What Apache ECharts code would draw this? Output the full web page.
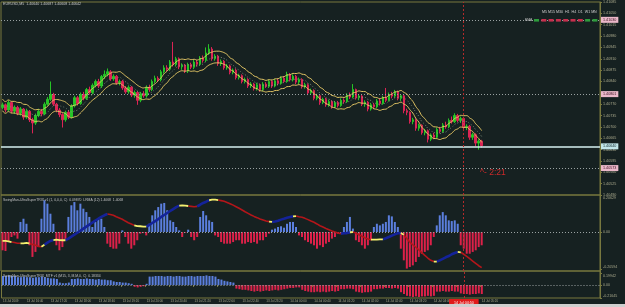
<!DOCTYPE html>
<html><head><meta charset="utf-8">
<script src="https://cdn.jsdelivr.net/npm/echarts@6/dist/echarts.min.js"></script>
<style>html,body{margin:0;padding:0;background:#162121;}#c{width:625px;height:307px;}</style>
</head><body><div id="c"></div>
<script>
// Prices are stored as points above BASE (e.g. 640 -> 1.40640)
const BASE = 1.4;
const opens = [
760,768,752,775,748,760,742,755,730,748,
722,712,735,748,740,770,785,800,770,752,
738,722,745,730,765,790,772,800,788,815,
806,828,840,826,855,862,870,848,856,836,
840,820,808,822,798,806,782,802,796,822,
815,840,850,845,870,882,878,900,892,910,
885,890,872,892,884,900,893,912,905,928,
940,910,918,895,902,882,888,868,875,852,
858,840,846,826,832,818,830,815,832,825,
840,826,842,834,850,840,862,845,856,838,
846,824,830,805,812,788,796,775,785,768,
778,762,775,766,782,778,798,792,815,790,
795,770,776,755,768,762,780,772,790,782,
800,795,808,788,796,750,745,716,722,696,
705,682,688,662,675,668,692,686,706,700,
720,716,735,720,726,698,702,668,676,650,
656];
const closes = [
768,752,775,748,760,742,755,730,748,722,
712,735,748,740,770,785,800,770,752,738,
722,745,730,765,790,772,800,788,815,806,
828,840,826,855,862,870,848,856,836,840,
820,808,822,798,806,782,802,796,822,815,
840,850,845,870,882,878,900,892,910,885,
890,872,892,884,900,893,912,905,928,940,
910,918,895,902,882,888,868,875,852,858,
840,846,826,832,818,830,815,832,825,840,
826,842,834,850,840,862,845,856,838,846,
824,830,805,812,788,796,775,785,768,778,
762,775,766,782,778,798,792,815,790,795,
770,776,755,768,762,780,772,790,782,800,
795,808,788,796,750,745,716,722,696,705,
682,688,662,675,668,692,686,706,700,720,
716,735,720,726,698,702,668,676,650,656,
642];
const highs = [
775,772,782,779,766,765,761,758,756,752,
728,741,756,755,776,792,840,805,774,758,
742,750,752,770,796,795,806,808,820,824,
834,846,848,860,874,880,875,862,860,846,
845,826,828,826,812,810,808,810,828,830,
846,858,856,876,890,890,906,962,916,914,
896,894,898,898,906,906,918,920,945,955,
946,924,922,908,906,894,892,880,880,864,
862,852,850,838,836,836,834,838,838,846,
844,848,848,856,856,870,866,862,860,852,
850,836,834,818,816,802,800,790,790,784,
782,780,780,788,788,804,806,832,818,800,
798,782,780,774,774,786,786,796,820,806,
808,814,812,800,800,756,748,728,726,710,
708,694,692,680,682,698,700,712,716,726,
732,742,740,732,730,708,706,682,680,662,
660];
const lows = [
754,745,748,742,740,736,735,722,725,715,
680,706,730,733,736,765,780,764,745,730,
698,716,724,726,760,766,768,782,783,800,
800,822,820,820,848,856,842,842,830,828,
814,802,802,792,790,768,776,790,790,808,
810,834,838,840,864,870,872,886,886,878,
876,866,866,878,878,886,888,898,900,922,
904,904,888,888,876,876,862,862,846,846,
834,834,820,820,812,812,808,810,820,820,
820,822,828,830,836,836,840,840,832,832,
818,818,798,800,782,782,768,770,762,762,
756,758,760,762,772,774,786,788,784,782,
764,762,748,750,756,758,766,768,776,778,
788,790,782,780,742,736,710,708,688,688,
676,674,652,656,662,664,680,682,694,696,
710,712,714,712,690,690,660,660,640,630,
636];
const hist1 = [
-0.102,-0.106,-0.056,-0.028,-0.019,-0.037,0.056,0.074,0.046,-0.074,
-0.139,-0.111,-0.084,0.074,0.177,0.158,0.102,0.046,-0.074,-0.102,
-0.084,-0.046,0.084,0.149,0.167,0.121,0.158,0.130,0.111,0.084,
0.028,0.056,0.074,0.074,0.028,-0.065,-0.084,-0.093,-0.093,-0.065,
0.009,-0.028,-0.065,-0.093,-0.074,-0.046,-0.009,-0.006,-0.019,0.046,
0.093,0.121,0.139,0.158,0.162,0.121,0.065,0.056,0.028,0.009,
-0.028,-0.004,0.013,-0.028,-0.046,-0.028,0.084,0.117,0.093,0.065,
0.056,-0.019,-0.028,-0.056,-0.065,-0.065,-0.065,-0.056,-0.046,-0.046,
-0.065,-0.065,-0.056,-0.061,-0.056,-0.065,-0.046,-0.046,-0.028,-0.009,
0.013,0.019,0.028,0.032,0.024,0.046,0.056,0.056,0.028,-0.019,
-0.028,-0.046,-0.056,-0.065,-0.074,-0.093,-0.074,-0.084,-0.065,-0.056,
-0.037,-0.028,-0.009,-0.006,0.028,0.056,0.084,0.019,-0.046,-0.056,
-0.074,-0.093,-0.074,-0.046,0.028,0.046,0.037,0.046,0.056,0.093,
0.087,0.056,0.028,-0.093,-0.158,-0.204,-0.195,-0.186,-0.167,-0.139,
-0.121,-0.111,-0.102,-0.074,-0.028,0.037,0.093,0.111,0.093,0.065,
0.061,0.065,0.046,-0.074,-0.093,-0.121,-0.121,-0.111,-0.102,-0.084,
-0.074];
const signal1 = [
-0.050,-0.050,-0.052,-0.056,-0.059,-0.063,-0.063,-0.063,-0.061,-0.063,
-0.069,-0.074,-0.080,-0.082,-0.071,-0.059,-0.050,-0.045,-0.043,-0.045,
-0.046,-0.046,-0.037,-0.026,-0.015,-0.004,0.007,0.019,0.030,0.041,
0.052,0.063,0.074,0.084,0.093,0.100,0.098,0.093,0.085,0.078,
0.071,0.061,0.052,0.045,0.037,0.033,0.032,0.030,0.030,0.039,
0.050,0.061,0.072,0.084,0.095,0.106,0.117,0.128,0.139,0.147,
0.149,0.147,0.145,0.143,0.141,0.143,0.152,0.162,0.169,0.177,
0.180,0.180,0.178,0.175,0.171,0.165,0.158,0.150,0.141,0.132,
0.123,0.113,0.104,0.095,0.087,0.080,0.072,0.067,0.061,0.058,
0.056,0.059,0.063,0.069,0.074,0.080,0.084,0.087,0.089,0.085,
0.082,0.076,0.069,0.061,0.054,0.045,0.035,0.028,0.020,0.013,
0.006,0,-0.006,-0.009,-0.007,-0.006,-0.002,0,-0.006,-0.015,
-0.024,-0.032,-0.039,-0.043,-0.043,-0.043,-0.041,-0.041,-0.035,-0.028,
-0.020,-0.013,-0.007,-0.006,-0.015,-0.037,-0.056,-0.071,-0.085,-0.100,
-0.115,-0.130,-0.145,-0.158,-0.165,-0.165,-0.158,-0.150,-0.141,-0.134,
-0.124,-0.117,-0.111,-0.113,-0.124,-0.136,-0.149,-0.162,-0.175,-0.188,
-0.199];
// colour state of each signal segment: b = rising (blue), r = falling (red), y = turning (yellow)
const signalRuns = [['y',3],['r',3],['y',3],['r',4],['y',1],['b',3],['y',4],['b',14],['r',9],['y',4],['b',11],['y',3],['r',3],['b',4],['y',3],['r',17],['y',1],['b',7],['y',1],['r',15],['b',3],['y',1],['r',6],['y',4],['b',6],['y',1],['r',10],['y',1],['b',7],['y',1],['r',7]];
const hist2 = [
0.15,0.15,0.16,0.15,0.15,
0.13,0.13,0.14,0.13,0.13,0.12,0.13,0.13,0.14,0.13,
0.12,0.11,0.11,0.10,
0.04,0.03,0.03,0.04,
0.10,0.10,0.11,0.10,0.10,0.11,0.10,0.10,0.09,0.10,0.09,0.09,0.08,0.08,
0.06,0.05,0.05,0.04,0.04,0.03,0.02,
-0.03,-0.04,-0.03,-0.02,
0.02,
0.14,0.14,0.15,0.15,0.15,0.14,0.15,0.15,0.14,0.15,0.15,0.14,0.14,0.15,0.15,0.14,0.15,
0.15,0.15,0.16,0.15,0.15,0.14,
0.10,0.09,0.07,0.06,0.05,0.04,
-0.06,-0.07,-0.08,-0.08,-0.09,
-0.10,-0.11,-0.10,-0.11,-0.10,-0.09,-0.10,-0.09,-0.08,-0.09,-0.08,-0.07,-0.06,-0.05,-0.05,
-0.04,-0.04,
-0.08,-0.10,-0.11,-0.12,-0.12,-0.11,-0.12,-0.11,-0.12,-0.11,-0.10,-0.11,-0.10,
-0.07,-0.07,-0.06,-0.06,-0.07,
-0.11,-0.12,-0.13,-0.12,-0.12,-0.11,
-0.07,-0.07,-0.06,-0.06,-0.05,-0.05,-0.06,-0.05,-0.06,
-0.12,-0.15,-0.18,
-0.19,-0.20,-0.19,-0.20,-0.19,-0.19,-0.18,-0.19,-0.18,
-0.11,-0.11,-0.10,-0.11,-0.11,-0.10,-0.11,-0.11,
-0.14,-0.15,-0.15,-0.16,-0.15,-0.15,-0.14,-0.15];
const timeLabels = ['13 Jul 2009','13 Jul 16:40','13 Jul 17:20','13 Jul 18:00','13 Jul 18:40','13 Jul 19:20','13 Jul 20:00','13 Jul 20:40','13 Jul 21:20','13 Jul 22:00','13 Jul 22:40','13 Jul 23:20','14 Jul 00:00','14 Jul 00:40','14 Jul 01:20','14 Jul 02:00','14 Jul 02:40','14 Jul 03:20','14 Jul 04:00','14 Jul 04:40','14 Jul 05:20'];
const LABEL_EVERY = 8;
const priceLevels = [1030, 801, 573];
const bidPrice = 640;
const ind1Labels = [0.20629, 0, -0.20594];
const ind2Labels = [0.19942, 0, -0.21645];
const cursorBar = 154;
const cursorLabel = '14 Jul 04:50';
const emaStates = ['g','r','r','r','r','r','r','g','g'];
const titleText = 'EURUSD,M5  1.40640 1.40687 1.40608 1.40642';
const tfText = 'M5 M15 M30  H1  H4  D1  W1 MN';
const ind1Title = 'SwingMan-UltraSuperTRIX v1 (1, 0,0,0, C)  0.09870  LRMA (12) 1.4068  1.4068';
const ind2Title = 'SwingMan-UltraSuperTRIX_MTF v1 (M15, 3, M,M,0, C)  0.18334';
const timerText = '^- 2:21';
const SLOTS = 200;
const ENV_PERIOD = 7, ENV_DEV = 18;

const fmtPrice = v => (BASE + v / 1e5).toFixed(5);
const slots = Array.from({length: SLOTS}, (_, i) => i);
const candles = closes.map((c, i) => [opens[i], c, lows[i], highs[i]]);
function sma(arr, n) {
  return arr.map((_, i) => { const s = Math.max(0, i - n + 1); let t = 0; for (let k = s; k <= i; k++) t += arr[k]; return t / (i - s + 1); });
}
const ma = sma(closes, ENV_PERIOD);
const segColor = [];
signalRuns.forEach(([c, n]) => { for (let k = 0; k < n; k++) segColor.push(c); });
function segSeries(c) {
  const d = new Array(SLOTS).fill(null);
  segColor.forEach((s, i) => { if (s === c) { d[i] = signal1[i]; d[i + 1] = signal1[i + 1]; } });
  return d;
}
const OLIVE = '#78783f', LBL = '#a9a98c', BLUE = '#5b7fde', RED = '#dc2149', FONT = 'Liberation Sans';
const gridBase = {left: 1, width: 599, show: true, borderColor: OLIVE, borderWidth: 1, backgroundColor: 'transparent'};
const xBase = g => ({type: 'category', gridIndex: g, data: slots, boundaryGap: true, axisLine: {show: false}, axisTick: {show: false}, axisLabel: {show: false}, splitLine: {show: false}});
const showTime = i => i % LABEL_EVERY === 0 && i / LABEL_EVERY < timeLabels.length;
const indLabel = (vals) => ({
  customValues: vals, fontSize: 3.6, color: LBL, margin: 3, fontFamily: FONT,
  formatter: v => v === 0 ? '0.00' : (v > 0 ? '{t|' + v.toFixed(5) + '}' : '{b|' + v.toFixed(5) + '}'),
  rich: {t: {fontSize: 3.6, color: LBL, padding: [6, 0, 0, 0]}, b: {fontSize: 3.6, color: LBL, padding: [0, 0, 4, 0]}}
});
const cursorLine = {xAxis: cursorBar, lineStyle: {type: [2, 2], color: '#b42a2a', width: 1}, label: {show: false}};
const zeroLine = {yAxis: 0, lineStyle: {type: [1, 2], color: '#9aa2a2', width: 1}, label: {show: false}};
const hlLabel = (text, bg, fg) => ({show: true, position: 'end', formatter: text, backgroundColor: bg, color: fg, fontSize: 3.7, padding: [1, 2], distance: 1, fontFamily: FONT});

const graphics = [
  {type: 'rect', z: 50, shape: {x: 0, y: 304, width: 625, height: 3}, style: {fill: '#cfcfcf'}},
  {type: 'text', z: 100, x: 3, y: 2, style: {text: titleText, fill: '#c8c8c8', fontSize: 3.6, fontFamily: FONT}},
  {type: 'text', z: 100, x: 542, y: 10, style: {text: tfText, fill: '#d0d0d0', fontSize: 3.6, fontFamily: FONT}},
  {type: 'text', z: 100, x: 525, y: 18.5, style: {text: 'EMA', fill: '#d0d0d0', fontSize: 3.4, fontFamily: FONT}},
  {type: 'text', z: 100, x: 3, y: 198.5, style: {text: ind1Title, fill: '#c0c0c0', fontSize: 3.4, fontFamily: FONT}},
  {type: 'text', z: 100, x: 3, y: 274.5, style: {text: ind2Title, fill: '#c0c0c0', fontSize: 3.4, fontFamily: FONT}},
  {type: 'text', z: 100, x: 480, y: 168, style: {text: timerText, fill: '#cc2a2a', fontSize: 8.5, fontFamily: FONT}}
];
emaStates.forEach((s, k) => graphics.push({type: 'rect', z: 100, shape: {x: 534 + 7.3 * k, y: 19, width: 5, height: 2.6}, style: {fill: s === 'g' ? '#2e9c3c' : '#c62e4c'}}));

const option = {
  backgroundColor: '#162121',
  animation: false,
  textStyle: {fontFamily: FONT},
  grid: [
    Object.assign({top: 0, height: 195}, gridBase),
    Object.assign({top: 195, height: 76}, gridBase),
    Object.assign({top: 271, height: 27}, gridBase)
  ],
  xAxis: [xBase(0), xBase(1), Object.assign(xBase(2), {
    axisTick: {show: true, interval: showTime, length: 2, lineStyle: {color: OLIVE}},
    axisLabel: {show: true, interval: showTime, formatter: (v, i) => timeLabels[i / LABEL_EVERY] || '', align: 'left', fontSize: 3, color: LBL, margin: 2, fontFamily: FONT}
  })],
  yAxis: [
    {type: 'value', gridIndex: 0, position: 'right', min: 490, max: 1085, interval: 35,
      axisLine: {show: true, lineStyle: {color: OLIVE}}, axisTick: {show: true, length: 2, lineStyle: {color: OLIVE}},
      axisLabel: {fontSize: 3.7, color: LBL, margin: 3, formatter: fmtPrice, fontFamily: FONT}, splitLine: {show: false}},
    {type: 'value', gridIndex: 1, position: 'right', min: -0.2174, max: 0.20629,
      axisLine: {show: true, lineStyle: {color: OLIVE}}, axisTick: {show: true, length: 2, customValues: ind1Labels, lineStyle: {color: OLIVE}},
      axisLabel: indLabel(ind1Labels), splitLine: {show: false}},
    {type: 'value', gridIndex: 2, position: 'right', min: -0.21645, max: 0.2331,
      axisLine: {show: true, lineStyle: {color: OLIVE}}, axisTick: {show: true, length: 2, customValues: ind2Labels, lineStyle: {color: OLIVE}},
      axisLabel: indLabel(ind2Labels), splitLine: {show: false}}
  ],
  series: [
    {type: 'candlestick', xAxisIndex: 0, yAxisIndex: 0, data: candles, barWidth: 2, z: 4,
      itemStyle: {color: '#26c426', color0: '#dc2455', borderColor: '#26c426', borderColor0: '#dc2455', borderWidth: 1},
      markLine: {silent: true, symbol: ['none', 'none'], animation: false, data: [
        ...priceLevels.map(p => ({yAxis: p, lineStyle: {type: [1, 2], color: '#9aa2a2', width: 1}, label: hlLabel(fmtPrice(p), '#ebb8c9', '#3a1020')})),
        {yAxis: bidPrice, lineStyle: {type: 'solid', color: '#d6f0f0', width: 1.5}, label: hlLabel(fmtPrice(bidPrice), '#c2e6ea', '#10282a')},
        cursorLine
      ]}},
    {type: 'line', xAxisIndex: 0, yAxisIndex: 0, data: ma.map(v => v + ENV_DEV), symbol: 'none', smooth: true, lineStyle: {color: '#e2c564', width: 1}, z: 5},
    {type: 'line', xAxisIndex: 0, yAxisIndex: 0, data: ma.map(v => v - ENV_DEV), symbol: 'none', smooth: true, lineStyle: {color: '#e2c564', width: 1}, z: 5},
    {type: 'line', xAxisIndex: 0, yAxisIndex: 0, data: ma, symbol: 'none', smooth: true, lineStyle: {color: '#8c9a86', width: 0.8, type: [1, 2]}, z: 5},
    {type: 'bar', xAxisIndex: 1, yAxisIndex: 1, barWidth: 2,
      data: hist1.map(v => ({value: v, itemStyle: {color: v >= 0 ? BLUE : RED}})),
      markLine: {silent: true, symbol: ['none', 'none'], animation: false, data: [zeroLine, cursorLine]}},
    {type: 'line', xAxisIndex: 1, yAxisIndex: 1, data: segSeries('r'), symbol: 'none', lineStyle: {color: '#b3161a', width: 1.6}, z: 5},
    {type: 'line', xAxisIndex: 1, yAxisIndex: 1, data: segSeries('b'), symbol: 'none', lineStyle: {color: '#14239a', width: 2.6}, z: 6},
    {type: 'line', xAxisIndex: 1, yAxisIndex: 1, data: segSeries('y'), symbol: 'none', lineStyle: {color: '#f4f070', width: 1.8}, z: 7},
    {type: 'bar', xAxisIndex: 2, yAxisIndex: 2, barWidth: 2,
      data: hist2.map(v => ({value: v, itemStyle: {color: v >= 0 ? BLUE : RED}})),
      markLine: {silent: true, symbol: ['none', 'none'], animation: false, data: [zeroLine,
        Object.assign({}, cursorLine, {label: {show: true, position: 'start', formatter: cursorLabel, color: '#ffffff', backgroundColor: '#e01a1a', fontSize: 3.6, padding: [1.5, 5], distance: 1, fontFamily: FONT}})]}}
  ],
  graphic: graphics
};
const chart = echarts.init(document.getElementById('c'), null, {renderer: 'canvas'});
chart.setOption(option);
</script>
</body></html>
